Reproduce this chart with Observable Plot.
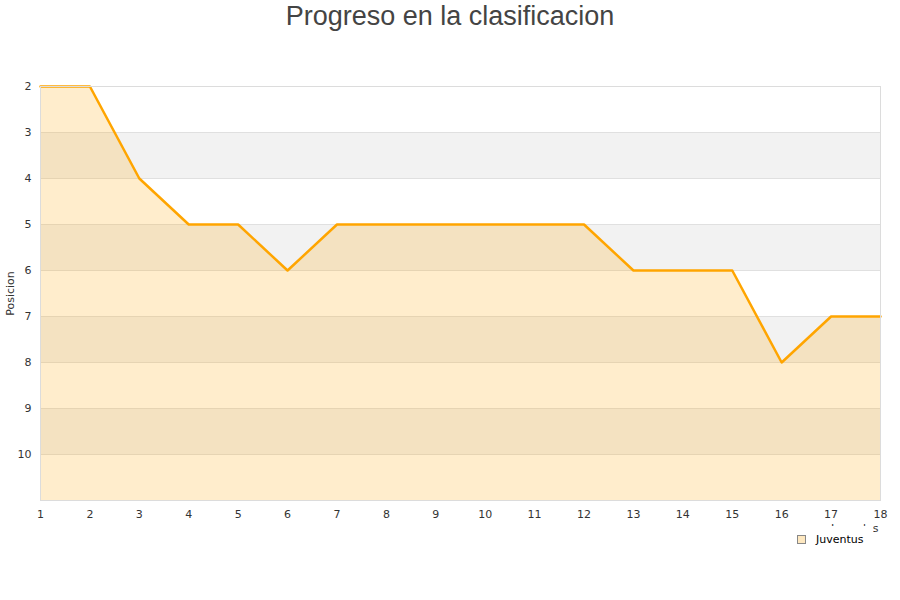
<!DOCTYPE html>
<html>
<head>
<meta charset="utf-8">
<script src="https://cdn.jsdelivr.net/npm/d3@7"></script>
<script src="https://cdn.jsdelivr.net/npm/@observablehq/plot@0.6"></script>
<style>
  html, body { margin: 0; padding: 0; background: #fff; }
  #wrap { position: relative; width: 900px; height: 600px; font-family: "DejaVu Sans", sans-serif; }
  #title { height: 50px; text-align: center; font-family: "Liberation Sans", Arial, sans-serif;
           font-size: 27px; color: #444; line-height: 32px; }
  #legend { position: absolute; left: 790px; top: 526px; width: 83px; height: 26px; background: #fff;
            font-size: 11px; color: #000; display: flex; align-items: center; }
  #legend .sw { width: 7px; height: 7px; border: 1px solid #888; background: #fee8c0; margin: 0 10px 0 7px; }
</style>
</head>
<body>
<div id="wrap">
  <div id="title">Progreso en la clasificacion</div>
  <div id="chart"></div>
  <div id="legend"><span class="sw"></span><span>Juventus</span></div>
</div>
<script>
// Juventus league position after each matchday
const jornadas = [1, 2, 3, 4, 5, 6, 7, 8, 9, 10, 11, 12, 13, 14, 15, 16, 17, 18];
const posiciones = [2, 2, 4, 5, 5, 6, 5, 5, 5, 5, 5, 5, 6, 6, 6, 8, 7, 7];
const yTicks = [2, 3, 4, 5, 6, 7, 8, 9, 10];
const bandStarts = [3, 5, 7, 9];
const lowestPos = 11;

const data = jornadas.map((j, i) => ({jornada: j, pos: posiciones[i]}));
const bands = bandStarts.map(b => ({y1: b, y2: b + 1}));

const chart = Plot.plot({
  width: 900,
  height: 550,
  marginTop: 36,
  marginBottom: 100,
  marginLeft: 40,
  marginRight: 20,
  style: {fontFamily: "DejaVu Sans, sans-serif", fontSize: "11px", color: "#333"},
  x: {domain: [1, 18], ticks: jornadas, tickSize: 0, tickPadding: 9, label: null},
  y: {domain: [2, lowestPos], reverse: true, ticks: yTicks, tickSize: 0, tickPadding: 9, label: null},
  marks: [
    Plot.rect(bands, {x1: 1, x2: 18, y1: "y1", y2: "y2", fill: "#f2f2f2"}),
    Plot.ruleY(yTicks, {stroke: "#e0e0e0", strokeWidth: 1}),
    Plot.areaY(data, {x: "jornada", y1: lowestPos, y2: "pos", fill: "#ffa500", fillOpacity: 0.2}),
    Plot.line(data, {x: "jornada", y: "pos", stroke: "#ffa500", strokeWidth: 2.5}),
    Plot.frame({stroke: "#dcdcdc"}),
    Plot.axisX({ticks: jornadas, tickSize: 0, tickPadding: 10, label: null}),
    Plot.axisY({ticks: yTicks, tickSize: 0, tickPadding: 9, label: null}),
    Plot.text(["Posicion"], {frameAnchor: "left", textAnchor: "middle", dx: -30, rotate: -90, fill: "#333", fontSize: 11}),
    Plot.text(["Jornadas"], {frameAnchor: "bottom-right", dy: 31, dx: -2, textAnchor: "end", fill: "#333", fontSize: 11})
  ]
});
document.getElementById("chart").appendChild(chart);
</script>
</body>
</html>
